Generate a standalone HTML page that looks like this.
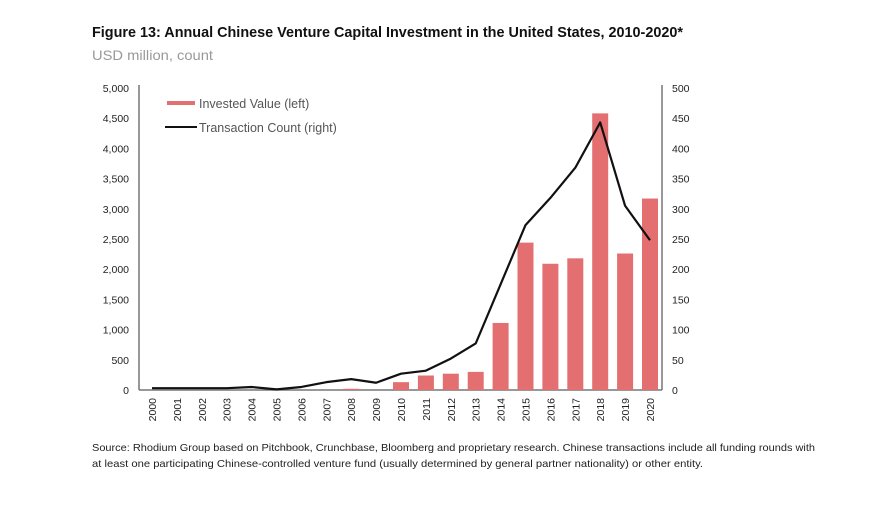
<!DOCTYPE html>
<html><head><meta charset="utf-8"><style>
body{margin:0;background:#fff;width:894px;height:504px;overflow:hidden;font-family:"Liberation Sans",sans-serif;}
</style></head><body>
<svg width="894" height="504" font-family="Liberation Sans, sans-serif">
<text x="92" y="37" font-size="15" font-weight="bold" fill="#111" textLength="591" lengthAdjust="spacingAndGlyphs">Figure 13: Annual Chinese Venture Capital Investment in the United States, 2010-2020*</text>
<text x="92" y="60" font-size="14" fill="#999" textLength="121" lengthAdjust="spacingAndGlyphs">USD million, count</text>
<g id="axes"></g>
<g id="bars"></g>
<g id="line"></g>
<g>
<rect x="167" y="101" width="28" height="4" fill="#e46f71"/>
<text x="199" y="108" font-size="12.5" fill="#555">Invested Value (left)</text>
<line x1="165" y1="127" x2="197" y2="127" stroke="#111" stroke-width="2"/>
<text x="199" y="132" font-size="12.5" fill="#555">Transaction Count (right)</text>
</g>
<text x="92" y="451" font-size="10.5" fill="#222" textLength="723" lengthAdjust="spacingAndGlyphs">Source: Rhodium Group based on Pitchbook, Crunchbase, Bloomberg and proprietary research. Chinese transactions include all funding rounds with</text>
<text x="92" y="467" font-size="10.5" fill="#222" textLength="611" lengthAdjust="spacingAndGlyphs">at least one participating Chinese-controlled venture fund (usually determined by general partner nationality) or other entity.</text>
</svg>
<script>
const years=["2000","2001","2002","2003","2004","2005","2006","2007","2008","2009","2010","2011","2012","2013","2014","2015","2016","2017","2018","2019","2020"];
const investedValue=[0,0,0,0,0,0,0,0,20,0,130,240,270,300,1110,2440,2090,2180,4580,2260,3170];
const transactionCount=[3,3,3,3,5,1,5,13,18,12,27,32,52,77,175,273,318,368,443,305,248];
const leftTicks=[0,500,1000,1500,2000,2500,3000,3500,4000,4500,5000];
const rightTicks=[0,50,100,150,200,250,300,350,400,450,500];
const NS="http://www.w3.org/2000/svg";
const x0=152,x1=650,yB=390,yT=88;
const xs=i=>x0+i*(x1-x0)/(years.length-1);
const yL=v=>yB-v/5000*(yB-yT);
const yR=v=>yB-v/500*(yB-yT);
function mk(t,a,p){const e=document.createElementNS(NS,t);for(const k in a)e.setAttribute(k,a[k]);p.appendChild(e);return e;}
const ax=document.getElementById('axes');
let e=mk('line',{x1:139,y1:yT-3,x2:139,y2:yB,stroke:'#777','stroke-width':1.5},ax);


e=mk('line',{x1:662,y1:yT-3,x2:662,y2:yB,stroke:'#777','stroke-width':1.5},ax);


e=mk('line',{x1:139,y1:yB,x2:662,y2:yB,stroke:'#777','stroke-width':1.5},ax);


leftTicks.forEach(v=>{const t=mk('text',{x:129,y:yL(v)+4,'font-size':10.5,'text-anchor':'end',fill:'#222'},ax);t.textContent=v.toLocaleString('en-US');

});
rightTicks.forEach(v=>{const t=mk('text',{x:672,y:yR(v)+4,'font-size':10.5,fill:'#222'},ax);t.textContent=v;

});
years.forEach((y,i)=>{const t=mk('text',{x:0,y:0,'font-size':10.5,'text-anchor':'end',fill:'#222',transform:`translate(${xs(i)+4},398) rotate(-90)`},ax);t.textContent=y;

});
const bg=document.getElementById('bars');
investedValue.forEach((v,i)=>{if(v<=0)return;const r=mk('rect',{x:xs(i)-8,y:yL(v),width:16,height:yB-yL(v),fill:'#e46f71'},bg);

});
const pts=transactionCount.map((v,i)=>xs(i)+','+yR(v)).join(' ');
const pl=mk('polyline',{points:pts,fill:'none',stroke:'#111','stroke-width':2.2,'stroke-linejoin':'round'},document.getElementById('line'));


</script>
</body></html>
